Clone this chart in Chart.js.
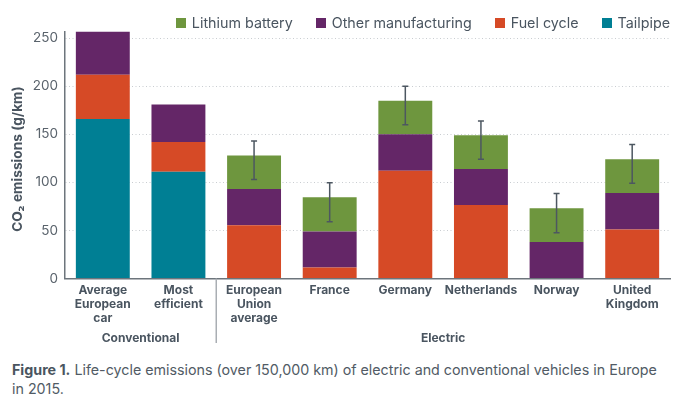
<!DOCTYPE html>
<html>
<head>
<meta charset="utf-8">
<script src="https://cdn.jsdelivr.net/npm/chart.js@4/dist/chart.umd.min.js"></script>
<style>
  html, body { margin: 0; padding: 0; background: #fff; }
  #wrap { position: relative; width: 681px; height: 405px; overflow: hidden; }
  canvas { position: absolute; left: 0; top: 0; }
  #legend { position: absolute; top: 13.5px; right: 11px; display: flex; gap: 23px; font: 14.3px/18px Inter, sans-serif; color: #4a5560; }
  #legend span { display: flex; align-items: center; gap: 6px; white-space: nowrap; }
  #legend i { display: block; width: 10px; height: 10px; }
  #caption { position: absolute; left: 12px; top: 361px; font: 14.27px/18.5px Inter, sans-serif; color: #515b65; white-space: nowrap; }
  #caption b { color: #4a5560; }
</style>
</head>
<body>
<div id="wrap">
  <canvas id="chart" width="681" height="355"></canvas>
  <div id="legend"></div>
  <div id="caption"><b>Figure 1.</b> Life-cycle emissions (over 150,000 km) of electric and conventional vehicles in Europe<br>in 2015.</div>
</div>
<script>
const categories = [
  ['Average', 'European', 'car'], ['Most', 'efficient'], ['European', 'Union', 'average'], 'France',
  'Germany', 'Netherlands', 'Norway', ['United', 'Kingdom']
];
const tailpipe = [166, 111, 0, 0, 0, 0, 0, 0];
const fuelCycle = [46, 31, 55.5, 11.5, 112, 76.5, 0, 51];
const otherManufacturing = [45, 39, 37.5, 37.5, 38, 37.5, 38, 38];
const lithiumBattery = [0, 0, 35, 35.5, 35, 35, 35, 35];
const errorLow = [null, null, 103, 59, 160, 124, 47.5, 99];
const errorHigh = [null, null, 143, 99.5, 200, 164, 88.5, 139.5];
const yTicks = [0, 50, 100, 150, 200, 250];
const groupNames = ['Conventional', 'Electric'];
const groupStart = [0, 2];
const groupEnd = [1, 7];

const TEXT = '#4a5560';
const FONT = 'Inter, sans-serif';

// whiskers, group labels and axis title, drawn from the chart scales
const extras = {
  id: 'extras',
  afterDatasetsDraw(chart) {
    const { ctx, scales: { x, y } } = chart;
    ctx.save();
    ctx.strokeStyle = '#4d5761';
    ctx.lineWidth = 1.5;
    errorLow.forEach((low, i) => {
      if (low === null) return;
      const px = x.getPixelForValue(i);
      const top = y.getPixelForValue(errorHigh[i]);
      const bottom = y.getPixelForValue(low);
      ctx.beginPath();
      ctx.moveTo(px, top); ctx.lineTo(px, bottom);
      ctx.moveTo(px - 3, top); ctx.lineTo(px + 3, top);
      ctx.moveTo(px - 3, bottom); ctx.lineTo(px + 3, bottom);
      ctx.stroke();
    });
    ctx.restore();
  },
  afterDraw(chart) {
    const { ctx, scales: { x, y } } = chart;
    ctx.save();
    // separator between the two groups
    const sep = x.getPixelForValue(1.5);
    ctx.strokeStyle = '#a9aeb3';
    ctx.lineWidth = 1.5;
    ctx.beginPath();
    ctx.moveTo(sep, y.bottom);
    ctx.lineTo(sep, 343);
    ctx.stroke();
    ctx.fillStyle = TEXT;
    ctx.font = 'bold 12px ' + FONT;
    ctx.textAlign = 'center';
    ctx.textBaseline = 'middle';
    groupNames.forEach((name, i) => {
      const mid = (x.getPixelForValue(groupStart[i]) + x.getPixelForValue(groupEnd[i])) / 2;
      ctx.fillText(name, mid, 338);
    });
    // y axis title sits a bit below the plot centre
    ctx.font = 'bold 13.7px ' + FONT;
    ctx.translate(18, 159);
    ctx.rotate(-Math.PI / 2);
    ctx.fillText('CO₂ emissions (g/km)', 0, 0);
    ctx.restore();
  }
};

const barStyle = { barPercentage: 0.713, categoryPercentage: 1 };

const chart = new Chart(document.getElementById('chart'), {
  type: 'bar',
  data: {
    labels: categories,
    datasets: [
      { label: 'Tailpipe', data: tailpipe, backgroundColor: '#007f94', ...barStyle },
      { label: 'Fuel cycle', data: fuelCycle, backgroundColor: '#d64a26', ...barStyle },
      { label: 'Other manufacturing', data: otherManufacturing, backgroundColor: '#642667', ...barStyle },
      { label: 'Lithium battery', data: lithiumBattery, backgroundColor: '#6e963e', ...barStyle }
    ]
  },
  options: {
    responsive: false,
    animation: false,
    layout: { padding: { top: 31.5, right: 11, bottom: 0, left: 0 } },
    plugins: {
      tooltip: { enabled: false },
      legend: { display: false }
    },
    scales: {
      x: {
        stacked: true,
        grid: { display: false, drawTicks: false },
        border: { color: '#6d757c', width: 1.5 },
        afterFit(s) { s.height = 76.5; },
        ticks: { autoSkip: false, maxRotation: 0, padding: 5, color: TEXT, font: { family: FONT, size: 12, weight: 'bold', lineHeight: 1.17 } }
      },
      y: {
        stacked: true,
        min: 0,
        max: 257,
        afterBuildTicks(s) { s.ticks = yTicks.map(v => ({ value: v })); },
        afterFit(s) { s.width = 65; },
        grid: { color: '#c9cdd1', lineWidth: 1, drawTicks: false },
        border: { color: '#6d757c', width: 1.5, dash: [1, 2.5] },
        ticks: { padding: 7, color: '#5a636c', font: { family: FONT, size: 13.5 } }
      }
    }
  },
  plugins: [extras]
});

// legend reads the datasets, top of the stack first
document.getElementById('legend').innerHTML = chart.data.datasets.slice().reverse()
  .map(d => `<span><i style="background:${d.backgroundColor}"></i>${d.label}</span>`).join('');
</script>
</body>
</html>
